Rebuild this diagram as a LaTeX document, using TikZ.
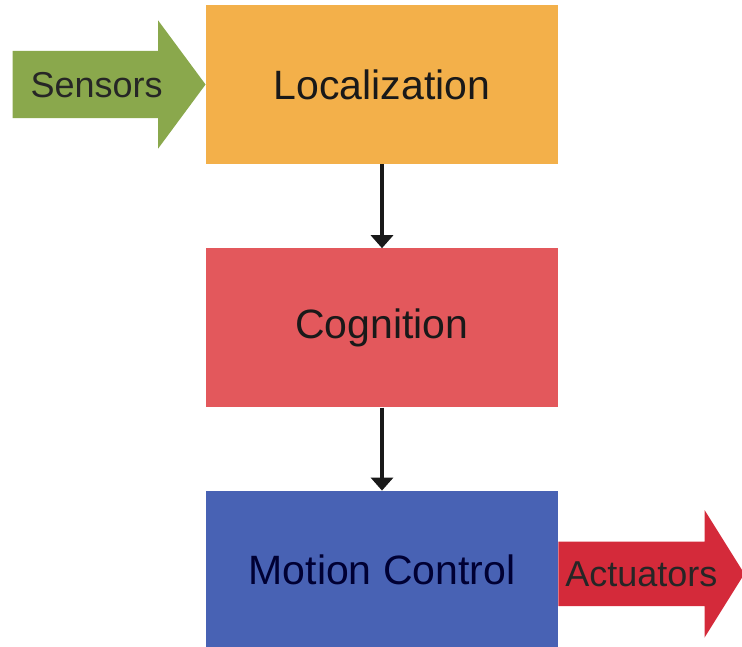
\documentclass[tikz,border=0pt]{standalone}
\usepackage{fontspec}
\setmainfont{Liberation Sans}
\usepackage{xcolor}
\usepackage{tikz}
\usetikzlibrary{arrows.meta, positioning, shapes.arrows}

\definecolor{locorange}{RGB}{243,176,74}
\definecolor{cogred}{RGB}{227,88,92}
\definecolor{motblue}{RGB}{72,98,180}
\definecolor{sensgreen}{RGB}{138,168,76}
\definecolor{actred}{RGB}{212,42,58}

\begin{document}
\begin{tikzpicture}[
  x=1pt, y=-1pt,
  node distance=84pt,
  block/.style={rectangle, minimum width=352pt, minimum height=159pt, inner sep=0pt,
                font=\fontsize{41}{49}\selectfont, text=black!90},
  bigarrow/.style={single arrow, inner xsep=0pt, font=\fontsize{36}{43}\selectfont,
                   text height=26pt, text depth=0pt,
                   text=black!85, single arrow head indent=0pt},
  flow/.style={-{Triangle[width=22pt,length=13pt]}, line width=3.6pt, black!90}
]
  \useasboundingbox (0,0) rectangle (742,647);

  %% Blocks
  \node[block, fill=locorange] (loc) at (382,84.5) {Localization};
  \node[block, fill=cogred, below=84pt of loc] (cog) {Cognition};
  \node[block, fill=motblue, below=83pt of cog, text=black!80!blue] (mot) {Motion Control};

  %% Input and output arrows
  \node[bigarrow, fill=sensgreen, minimum height=193pt, inner ysep=20.5pt,
        single arrow head extend=30.5pt, single arrow tip angle=107,
        anchor=tip] (sens) at (loc.west) {Sensors};
  \node[bigarrow, fill=actred, minimum height=186pt, inner ysep=19pt,
        single arrow head extend=31.5pt, single arrow tip angle=116,
        anchor=tail, yshift=-3.5pt] (act) at (mot.east) {Actuators};

  %% Arrows
  \draw[flow] (loc) -- (cog);
  \draw[flow] (cog) -- (mot);
\end{tikzpicture}
\end{document}
